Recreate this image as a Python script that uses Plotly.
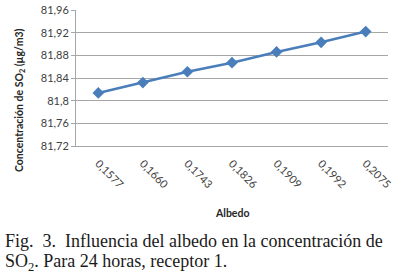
import plotly.graph_objects as go

albedo = ["0,1577", "0,1660", "0,1743", "0,1826", "0,1909", "0,1992", "0,2075"]
so2 = [81.8136, 81.832, 81.851, 81.867, 81.886, 81.903, 81.922]
y_tick_vals = [81.72, 81.76, 81.80, 81.84, 81.88, 81.92, 81.96]
y_tick_labels = ["81,72", "81,76", "81,8", "81,84", "81,88", "81,92", "81,96"]

W, H = 397, 279
ml, mr, mt, mb = 76, 9, 10, 133
pw = W - ml - mr
ph = H - mt - mb

def px_x(x):
    return (x - ml) / pw

def px_y(y):
    return (H - mb - y) / ph

fig = go.Figure()
fig.add_trace(go.Scatter(
    x=albedo, y=so2, mode="lines+markers",
    line=dict(color="#4A7EBB", width=2.5),
    marker=dict(symbol="diamond", size=9, color="#4A7EBB"),
    showlegend=False, cliponaxis=False,
))

axis_font = dict(family="Lato, 'Open Sans', sans-serif", size=11, color="#404040")
fig.update_layout(
    width=W, height=H,
    margin=dict(l=ml, r=mr, t=mt, b=mb),
    paper_bgcolor="white", plot_bgcolor="white",
    xaxis=dict(
        type="category", range=[-0.5, 6.5], tickangle=45, automargin=False,
        showgrid=False, showline=True, linecolor="#A6A6A6", linewidth=1,
        ticks="outside", ticklen=6, tickcolor="rgba(0,0,0,0)",
        tickfont=axis_font, zeroline=False,
    ),
    yaxis=dict(
        range=[81.72, 81.96], tickvals=y_tick_vals, ticktext=y_tick_labels,
        automargin=False,
        showgrid=True, gridcolor="#A6A6A6", gridwidth=1,
        showline=True, linecolor="#A6A6A6", linewidth=1,
        ticks="outside", ticklen=4, tickcolor="#A6A6A6",
        tickfont=axis_font, zeroline=False,
    ),
    annotations=[
        dict(text="<b>Concentración de SO<sub>2</sub> (µg/m3)</b>", xref="paper", yref="paper",
             x=px_x(20), y=px_y(100), textangle=-90, showarrow=False,
             font=dict(family="Lato, 'Open Sans', sans-serif", size=10.5, color="#262626"),
             xanchor="center", yanchor="middle"),
        dict(text="<b>Albedo</b>", xref="paper", yref="paper",
             x=px_x(232), y=px_y(213), showarrow=False,
             font=dict(family="Lato, 'Open Sans', sans-serif", size=10.5, color="#262626"),
             xanchor="center", yanchor="middle"),
        dict(text="Fig.  3.  Influencia del albedo en la concentración de", xref="paper", yref="paper",
             x=px_x(3), y=px_y(241), showarrow=False,
             font=dict(family="'Liberation Serif', 'Times New Roman', serif", size=18, color="#1a1a1a"),
             xanchor="left", yanchor="middle"),
        dict(text="SO<sub>2</sub>. Para 24 horas, receptor 1.", xref="paper", yref="paper",
             x=px_x(3), y=px_y(262), showarrow=False,
             font=dict(family="'Liberation Serif', 'Times New Roman', serif", size=18, color="#1a1a1a"),
             xanchor="left", yanchor="middle"),
    ],
)

fig.write_html("out.html", config={"displayModeBar": False},
               post_script="document.body.style.margin='0';document.body.style.padding='0';")
